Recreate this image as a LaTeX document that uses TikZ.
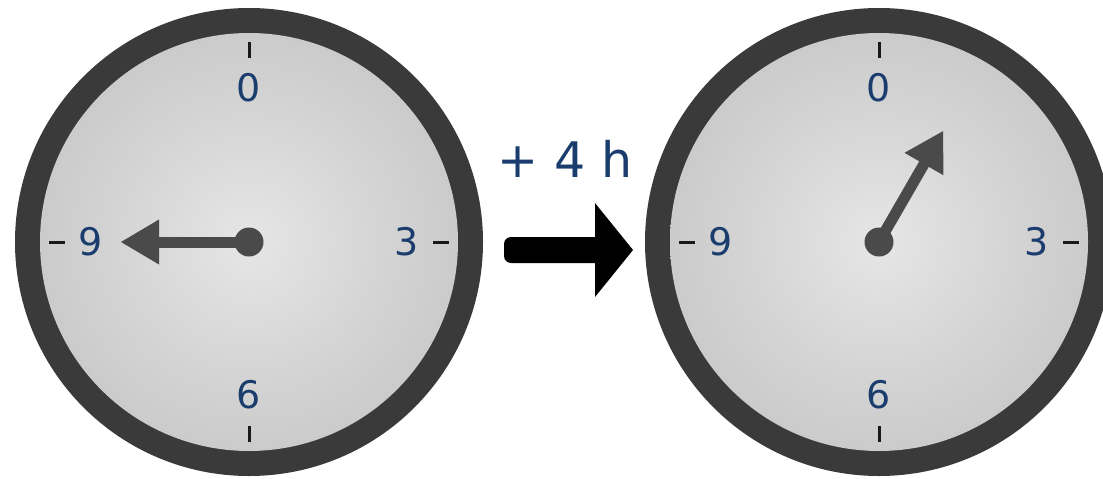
\documentclass[tikz,border=0pt]{standalone}
\usepackage{fontspec}
\setmainfont{DejaVu Sans}
\usetikzlibrary{calc}
\definecolor{ringc}{HTML}{3A3A3A}
\definecolor{handc}{HTML}{4A4A4A}
\definecolor{numc}{HTML}{1A3D6E}
\definecolor{facein}{HTML}{E6E6E6}
\definecolor{facemid}{HTML}{D4D4D4}
\definecolor{faceout}{HTML}{C2C2C2}
\definecolor{faceedge}{HTML}{BCBCBC}
\pgfdeclareradialshading{clockface}{\pgfpoint{0bp}{0bp}}{color(0bp)=(facein); color(16bp)=(facemid); color(34bp)=(faceout); color(50bp)=(faceedge)}
\begin{document}
\begin{tikzpicture}[x=1pt,y=-1pt,
  num/.style={font=\fontsize{38}{44}\selectfont, text=numc, inner sep=0pt},
  tickline/.style={line width=3pt, black!90},
  bigtext/.style={font=\fontsize{49}{58}\selectfont, text=numc, inner sep=0pt}]
\useasboundingbox (0,0) rectangle (1103,479);
\clip (0,0) rectangle (1103,479);
\fill[white] (0,0) rectangle (1103,479);
\foreach \cx/\cy/\ang/\nm in {249/242/180/L, 879/242/60/R} {
  \coordinate (c\nm) at (\cx,\cy);
  \fill[ringc] (c\nm) circle (234pt);
  \shade[shading=clockface] (c\nm) circle (209pt);
  \foreach \a in {0,90,180,270}
    \draw[tickline] ($(c\nm)+(\a:184pt)$) -- ($(c\nm)+(\a:200pt)$);
  \node[num] (zero\nm) at ($(c\nm)+(90:154pt)$) {0};
  \node[num] (three\nm) at ($(c\nm)+(0:158pt)$) {3};
  \node[num] (six\nm) at ($(c\nm)+(270:153pt)$) {6};
  \node[num] (nine\nm) at ($(c\nm)+(180:158pt)$) {9};
  \fill[handc] ($(c\nm)+(\ang:128pt)$) -- ($(c\nm)+(\ang:90pt)+(\ang+90:22.5pt)$)
     -- ($(c\nm)+(\ang:90pt)+(\ang-90:22.5pt)$) -- cycle;
  \draw[handc, line width=11pt] (c\nm) -- ($(c\nm)+(\ang:92pt)$);
  \fill[handc] (c\nm) circle (14.5pt);
}
\node[bigtext, anchor=base] (label) at (565,177) {+ 4 h};
\fill[black, rounded corners=7pt] (504,237) rectangle (610,263);
\fill[black] (595,203) -- (633,250) -- (595,297) -- cycle;
\end{tikzpicture}
\end{document}
